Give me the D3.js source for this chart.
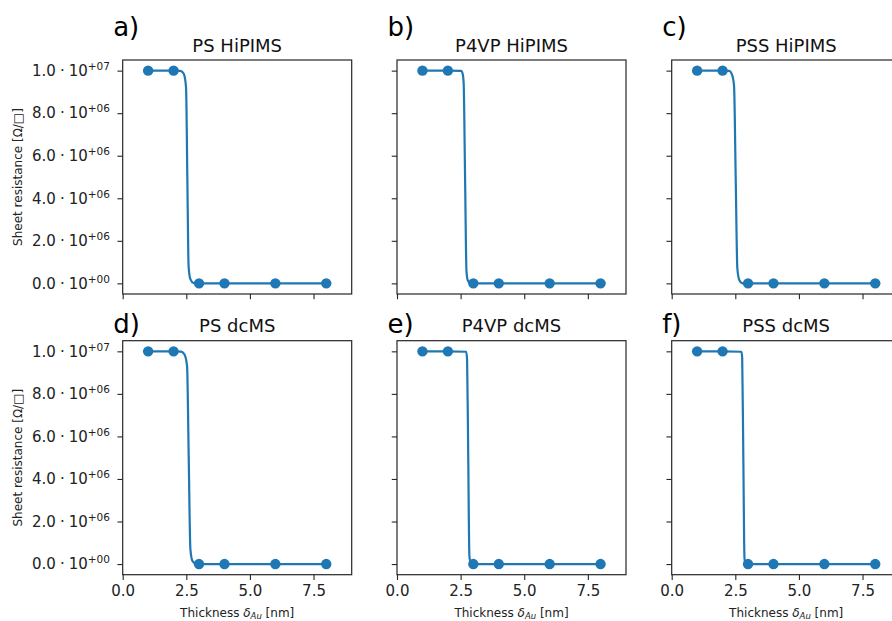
<!DOCTYPE html>
<html><head><meta charset="utf-8">
<script src="https://cdn.jsdelivr.net/npm/d3@7"></script>
<style>
body{margin:0;background:#fff;}
svg{display:block;font-family:"DejaVu Sans",sans-serif;}
</style></head>
<body><svg id="c" width="892" height="621"></svg>
<script>
// ---- data ----
const thickness = [1, 2, 3, 4, 6, 8];
const resPsHipims   = [1e7, 1e7, 0, 0, 0, 0];
const resP4vpHipims = [1e7, 1e7, 0, 0, 0, 0];
const resPssHipims  = [1e7, 1e7, 0, 0, 0, 0];
const resPsDcms     = [1e7, 1e7, 0, 0, 0, 0];
const resP4vpDcms   = [1e7, 1e7, 0, 0, 0, 0];
const resPssDcms    = [1e7, 1e7, 0, 0, 0, 0];

// fitted curves
const fitXPsHipims   = [1, 2, 2.27, 2.4, 2.49, 2.54, 2.59, 2.66, 2.78, 2.9, 3, 4, 6, 8];
const fitYPsHipims   = [1e7, 1e7, 9.99e6, 9.85e6, 9.2e6, 5e6, 8e5, 2e5, 2e4, 0, 0, 0, 0, 0];
const fitXP4vpHipims = [1, 2, 2.52, 2.58, 2.62, 2.675, 2.73, 2.78, 2.9, 3, 4, 6, 8];
const fitYP4vpHipims = [1e7, 1e7, 9.99e6, 9.85e6, 9.4e6, 5e6, 6e5, 1.5e5, 0, 0, 0, 0, 0];
const fitXPssHipims  = [1, 2, 2.26, 2.36, 2.45, 2.515, 2.58, 2.66, 2.8, 3, 4, 6, 8];
const fitYPssHipims  = [1e7, 1e7, 9.99e6, 9.85e6, 9.3e6, 5e6, 7e5, 1.5e5, 0, 0, 0, 0, 0];
const fitXPsDcms     = [1, 2, 2.3, 2.43, 2.53, 2.595, 2.66, 2.74, 2.9, 3, 4, 6, 8];
const fitYPsDcms     = [1e7, 1e7, 9.99e6, 9.85e6, 9.3e6, 5e6, 7e5, 1.5e5, 0, 0, 0, 0, 0];
const fitXP4vpDcms   = [1, 2, 2.72, 2.755, 2.8, 2.845, 2.9, 3, 4, 6, 8];
const fitYP4vpDcms   = [1e7, 1e7, 9.98e6, 9.6e6, 5e6, 4e5, 3e4, 0, 0, 0, 0];
const fitXPssDcms    = [1, 2, 2.74, 2.77, 2.815, 2.86, 2.9, 3, 4, 6, 8];
const fitYPssDcms    = [1e7, 1e7, 9.98e6, 9.7e6, 5e6, 3e5, 0, 0, 0, 0, 0];

const panelTitles = ["PS HiPIMS", "P4VP HiPIMS", "PSS HiPIMS", "PS dcMS", "P4VP dcMS", "PSS dcMS"];
const panelLetters = ["a)", "b)", "c)", "d)", "e)", "f)"];
const xTicks = [0, 2.5, 5, 7.5];
const yTicks = [0, 2e6, 4e6, 6e6, 8e6, 1e7];
const xDomain = [0, 9];
const yDomain = [-0.5e6, 1.05e7];

const panels = [
  {res: resPsHipims,   fx: fitXPsHipims,   fy: fitYPsHipims},
  {res: resP4vpHipims, fx: fitXP4vpHipims, fy: fitYP4vpHipims},
  {res: resPssHipims,  fx: fitXPssHipims,  fy: fitYPssHipims},
  {res: resPsDcms,     fx: fitXPsDcms,     fy: fitYPsDcms},
  {res: resP4vpDcms,   fx: fitXP4vpDcms,   fy: fitYP4vpDcms},
  {res: resPssDcms,    fx: fitXPssDcms,    fy: fitYPssDcms},
];

// ---- layout ----
const colLeft = [122.7, 397, 671.7];
const rowTop = [60, 340.7];
const letterBase = [36, 333];
const W = 229, H = 234;
const blue = "#1f77b4", spine = "#262626";

const svg = d3.select("#c");

panels.forEach((p, i) => {
  const r = Math.floor(i / 3), c = i % 3;
  const g = svg.append("g").attr("transform", `translate(${colLeft[c]},${rowTop[r]})`);
  const x = d3.scaleLinear().domain(xDomain).range([0, W]);
  const y = d3.scaleLinear().domain(yDomain).range([H, 0]);

  // y axis
  const yAx = d3.axisLeft(y).tickValues(yTicks).tickSize(5.25).tickPadding(7.5)
    .tickFormat(() => "");
  const ya = g.append("g").call(yAx);
  ya.select(".domain").remove();
  ya.selectAll(".tick line").attr("stroke", spine).attr("stroke-width", 1.1);
  if (c === 0) {
    ya.selectAll(".tick text").each(function(d) {
      const t = d3.select(this).text(null).attr("font-size", 15).attr("fill", "#222")
        .attr("font-family", "DejaVu Sans");
      const e = d === 0 ? 0 : Math.floor(Math.log10(d));
      const m = d / Math.pow(10, e);
      const es = (e >= 0 ? "+" : "-") + String(Math.abs(e)).padStart(2, "0");
      t.append("tspan").text(m.toFixed(1));
      t.append("tspan").attr("dx", 4).text("\u00b7");
      t.append("tspan").attr("dx", 4).text("10");
      t.append("tspan").attr("font-size", 10.5).attr("dy", -6).text(es);
    });
  }
  // x axis
  const xAx = d3.axisBottom(x).tickValues(xTicks).tickSize(5.25).tickPadding(5.5)
    .tickFormat(r === 1 ? d3.format(".1f") : () => "");
  const xa = g.append("g").attr("transform", `translate(0,${H})`).call(xAx);
  xa.select(".domain").remove();
  xa.selectAll(".tick line").attr("stroke", spine).attr("stroke-width", 1.1);
  xa.selectAll(".tick text").attr("font-size", 15).attr("fill", "#222")
    .attr("font-family", "DejaVu Sans");

  // fit line
  const fit = p.fx.map((v, k) => [v, p.fy[k]]);
  g.append("path").datum(fit)
    .attr("d", d3.line().x(d => x(d[0])).y(d => y(d[1])).curve(d3.curveMonotoneX))
    .attr("fill", "none").attr("stroke", blue).attr("stroke-width", 2.2)
    .attr("stroke-linejoin", "round");
  // data points
  g.selectAll("circle.pt").data(thickness.map((v, k) => [v, p.res[k]])).join("circle")
    .attr("class", "pt").attr("cx", d => x(d[0])).attr("cy", d => y(d[1]))
    .attr("r", 5.2).attr("fill", blue);

  // frame
  g.append("rect").attr("width", W).attr("height", H).attr("fill", "none")
    .attr("stroke", spine).attr("stroke-width", 1.2);

  // title
  g.append("text").attr("x", W / 2).attr("y", -8.5).attr("text-anchor", "middle")
    .attr("font-size", 18).attr("fill", "#111").text(panelTitles[i]);
  // panel letter
  svg.append("text").attr("x", colLeft[c] - 9.5).attr("y", letterBase[r]).attr("font-size", 26)
    .attr("fill", "#000").text(panelLetters[i]);

  if (c === 0) {
    g.append("text").attr("transform", `translate(-101,${H / 2}) rotate(-90)`)
      .attr("text-anchor", "middle").attr("font-size", 12).attr("fill", "#222")
      .text("Sheet resistance [\u03a9/\u25a1]");
  }
  if (r === 1) {
    const t = g.append("text").attr("x", W / 2).attr("y", H + 42)
      .attr("text-anchor", "middle").attr("font-size", 12).attr("fill", "#222");
    t.append("tspan").text("Thickness ");
    t.append("tspan").attr("font-style", "italic").text("\u03b4");
    t.append("tspan").attr("font-style", "italic").attr("font-size", 8.5).attr("dy", 2.5).text("Au");
    t.append("tspan").attr("dy", -2.5).text(" [nm]");
  }
});
</script></body></html>
